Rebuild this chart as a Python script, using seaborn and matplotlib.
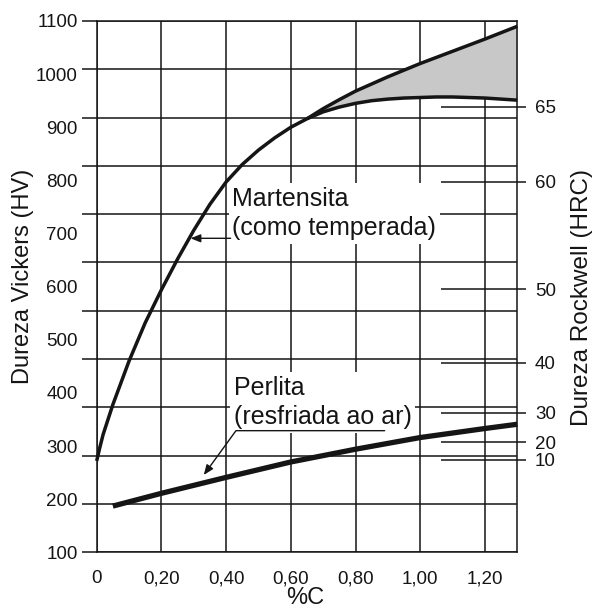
import numpy as np
import pandas as pd
import matplotlib
matplotlib.use("Agg")
import matplotlib.pyplot as plt
import seaborn as sns

# ---------------- data ----------------
carbon_mart = [0.00, 0.01, 0.02, 0.05, 0.10, 0.15, 0.20, 0.25, 0.30, 0.35, 0.40,
               0.45, 0.50, 0.55, 0.60, 0.65, 0.70, 0.75, 0.80, 0.85, 0.90, 0.95,
               1.00, 1.05, 1.10, 1.15, 1.20, 1.25, 1.30]
hv_mart = [272, 298, 322, 378, 460, 532, 594, 652, 706, 755, 797,
           830, 857, 880, 900, 916, 929, 938, 945, 950, 953, 955,
           956, 957, 957, 956, 955, 953, 951]
carbon_upper = [0.65, 0.70, 0.75, 0.80, 0.90, 1.00, 1.10, 1.20, 1.30]
hv_upper = [916, 935, 952, 968, 995, 1020, 1043, 1066, 1090]
carbon_perl = [0.05, 0.20, 0.40, 0.60, 0.80, 1.00, 1.20, 1.30]
hv_perl = [187, 211, 241, 270, 294, 316, 333, 341]

x_ticks = [0, 0.2, 0.4, 0.6, 0.8, 1.0, 1.2]
x_labels = ["0", "0,20", "0,40", "0,60", "0,80", "1,00", "1,20"]
hv_ticks = [100, 200, 300, 400, 500, 600, 700, 800, 900, 1000, 1100]
hv_labels = [str(v) for v in hv_ticks]
hrc_pos = [939, 797, 595, 457, 363, 307, 274]
hrc_labels = ["65", "60", "50", "40", "30", "20", "10"]

# ---------------- style ----------------
sns.set_theme(style="white")
plt.rcParams["font.family"] = ["Liberation Sans", "DejaVu Sans"]
INK = "#151515"

fig = plt.figure(figsize=(5.95, 6.14), dpi=100)
ax = fig.add_axes([0.1625, 0.1005, 0.7069, 0.8653])
ax.set_xlim(0, 1.3)
ax.set_ylim(100, 1100)

df_m = pd.DataFrame({"C": carbon_mart, "HV": hv_mart})
df_u = pd.DataFrame({"C": carbon_upper, "HV": hv_upper})
df_p = pd.DataFrame({"C": carbon_perl, "HV": hv_perl})

# shaded tempering band
lookup = dict(zip(carbon_mart, hv_mart))
lower_band = [lookup[c] for c in carbon_upper]
ax.fill_between(carbon_upper, lower_band, hv_upper, color="#c8c8c8", lw=0, zorder=1.5)

sns.lineplot(data=df_m, x="C", y="HV", ax=ax, color=INK, lw=2.5, zorder=4,
             estimator=None, sort=False)
sns.lineplot(data=df_u, x="C", y="HV", ax=ax, color=INK, lw=2.5, zorder=4,
             estimator=None, sort=False)
sns.lineplot(data=df_p, x="C", y="HV", ax=ax, color=INK, lw=3.8, zorder=4,
             estimator=None, sort=False)
for ln in ax.lines:
    ln.set_clip_on(False)
    ln.set_solid_capstyle("butt")
    ln.set_solid_joinstyle("round")

# grid: x at labelled ticks, y as 12 evenly spaced rules
grid_y = np.linspace(100, 1100, 12)
ax.set_xticks(x_ticks, x_labels)
ax.set_yticks(grid_y, [""] * len(grid_y))
ax.set_yticks(hv_ticks, hv_labels, minor=True)
ax.yaxis.remove_overlapping_locs = False
ax.grid(True, which="major", axis="both", color=INK, lw=1.1)
ax.set_axisbelow(True)
for s in ax.spines.values():
    s.set_color(INK)
    s.set_linewidth(1.1)

ax.tick_params(axis="x", which="major", direction="out", length=6.8, width=1.1,
               color=INK, labelsize=13.5, labelcolor=INK, pad=6)
ax.tick_params(axis="y", which="major", direction="out", length=10.5, width=1.1,
               color=INK)
ax.tick_params(axis="y", which="minor", length=0, labelsize=13.5,
               labelcolor=INK, pad=13.5)

ax.set_xlabel("%C", fontsize=17, color=INK)
ax.xaxis.set_label_coords(0.495, -0.066)
ax.set_ylabel("Dureza Vickers (HV)", fontsize=17, color=INK)
ax.yaxis.set_label_coords(-0.148, 0.52)

# right-hand Rockwell scale
ax2 = ax.twinx()
ax2.set_ylim(ax.get_ylim())
ax2.set_yticks(hrc_pos, hrc_labels)
ax2.set_yticks(hrc_pos, minor=True)
ax2.yaxis.remove_overlapping_locs = False
ax2.tick_params(axis="y", which="major", direction="in", length=54.4, width=1.1,
                color=INK, labelsize=13.5, labelcolor=INK, pad=12.7)
ax2.tick_params(axis="y", which="minor", direction="out", length=6.8, width=1.1,
                color=INK, labelright=False)
for s in ax2.spines.values():
    s.set_visible(False)
ax2.set_ylabel("Dureza Rockwell (HRC)", fontsize=17.5, color=INK)
ax2.yaxis.set_label_coords(1.128, 0.479)
ax2.grid(False)

# annotations
box = dict(boxstyle="square,pad=0.15", fc="white", ec="none")
ax.text(0.419, 788, "Martensita\n(como temperada)", fontsize=18, color=INK,
        va="top", ha="left", linespacing=1.27, bbox=box, zorder=3)
ax.text(0.423, 432, "Perlita\n(resfriada ao ar)", fontsize=18, color=INK,
        va="top", ha="left", linespacing=1.27, bbox=box, zorder=3)

arrow = dict(arrowstyle="-|>,head_length=0.5,head_width=0.2", color=INK, lw=1.0,
             shrinkA=0, shrinkB=0, mutation_scale=12)
ax.annotate("", xy=(0.290, 691), xytext=(0.414, 691), arrowprops=arrow, zorder=5)
ax.annotate("", xy=(0.331, 245.5), xytext=(0.890, 328.9),
            arrowprops=dict(arrow, connectionstyle="angle,angleA=0,angleB=54,rad=0"),
            zorder=5)

fig.savefig("out.png", dpi=100, facecolor="white")
